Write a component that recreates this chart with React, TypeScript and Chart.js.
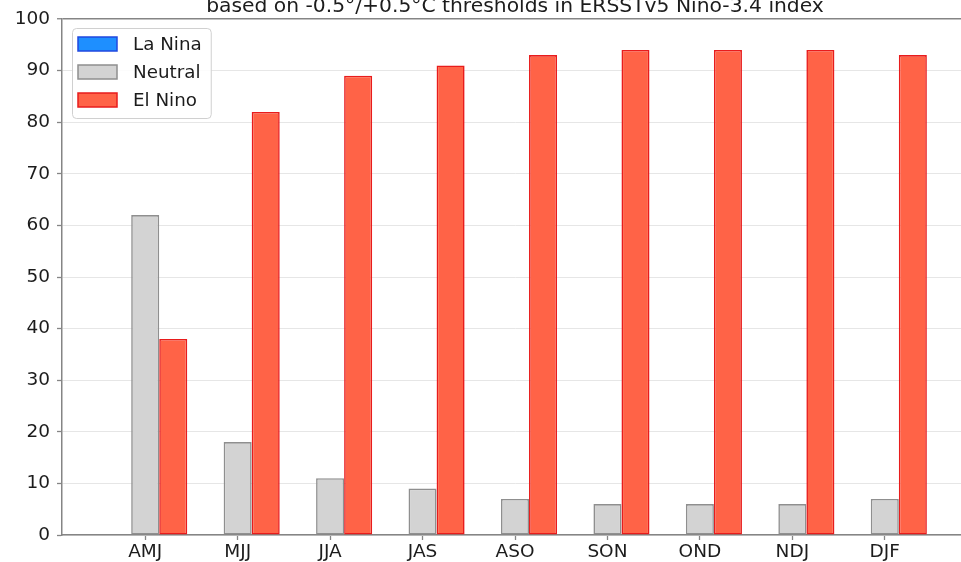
import { useEffect, useRef } from "react";
import { Chart, registerables } from "chart.js";

Chart.register(...registerables);

// ENSO outcome probabilities (%) by overlapping 3-month season
const SEASONS = ["AMJ", "MJJ", "JJA", "JAS", "ASO", "SON", "OND", "NDJ", "DJF"];
const LA_NINA = [0, 0, 0, 0, 0, 0, 0, 0, 0];
const NEUTRAL = [62, 18, 11, 9, 7, 6, 6, 6, 7];
const EL_NINO = [38, 82, 89, 91, 93, 94, 94, 94, 93];
const SERIES_NAMES = ["La Nina", "Neutral", "El Nino"];
const Y_MIN = 0;
const Y_MAX = 100;
const Y_STEP = 10;
const TITLE = "based on -0.5\u00b0/+0.5\u00b0C thresholds in ERSSTv5 Nino-3.4 index";

const FONT = "DejaVu Sans";
const SPINE = "#858585";
const TEXT = "#1c1c1c";

const CANVAS_W = 980;
const CANVAS_H = 562;

// Title sits just above the plot frame
const titlePlugin = {
  id: "topTitle",
  afterDraw(chart: any) {
    const { ctx, chartArea } = chart;
    ctx.save();
    ctx.font = `20.3px "${FONT}"`;
    ctx.fillStyle = TEXT;
    ctx.textAlign = "center";
    ctx.textBaseline = "alphabetic";
    ctx.fillText(TITLE, (chartArea.left + chartArea.right) / 2, chartArea.top - 7.5);
    ctx.restore();
  },
};

// Framed legend in the upper-left corner of the plot
const insetLegend = {
  id: "insetLegend",
  afterDatasetsDraw(chart: any) {
    const { ctx, chartArea } = chart;
    const sets = chart.data.datasets;
    const fx = chartArea.left + 10;
    const fy = chartArea.top + 9;
    const boxX = chartArea.left + 16;
    const boxW = 39;
    const boxH = 14;
    const textX = boxX + boxW + 16;
    const rowH = 28;
    const firstRow = chartArea.top + 25;
    ctx.save();
    ctx.font = `18.3px "${FONT}"`;
    let maxW = 0;
    sets.forEach((d: any) => {
      maxW = Math.max(maxW, ctx.measureText(d.label).width);
    });
    const fw = textX + maxW + 9 - fx;
    const fh = rowH * sets.length + 6;
    ctx.beginPath();
    ctx.roundRect(fx + 0.5, fy + 0.5, fw, fh, 4);
    ctx.fillStyle = "rgba(255,255,255,0.85)";
    ctx.fill();
    ctx.strokeStyle = "#d0d0d0";
    ctx.lineWidth = 1;
    ctx.stroke();
    sets.forEach((d: any, i: number) => {
      const cy = firstRow + i * rowH;
      ctx.fillStyle = d.backgroundColor;
      ctx.fillRect(boxX, cy - boxH / 2, boxW, boxH);
      ctx.strokeStyle = d.borderColor;
      ctx.lineWidth = 1.5;
      ctx.strokeRect(boxX, cy - boxH / 2, boxW, boxH);
      ctx.fillStyle = TEXT;
      ctx.textAlign = "left";
      ctx.textBaseline = "middle";
      ctx.fillText(d.label, textX, cy + 1);
    });
    ctx.restore();
  },
};

const toPoints = (vals: number[]) => vals.map((y, x) => ({ x, y }));

export default function App() {
  const ref = useRef<HTMLCanvasElement | null>(null);

  useEffect(() => {
    if (!ref.current) return;
    const chart = new Chart(ref.current, {
      type: "bar",
      data: {
        datasets: [
          {
            label: SERIES_NAMES[0],
            data: toPoints(LA_NINA),
            backgroundColor: "#1e8fff",
            borderColor: "#2048e0",
          },
          {
            label: SERIES_NAMES[1],
            data: toPoints(NEUTRAL),
            backgroundColor: "#d3d3d3",
            borderColor: "#8f8f8f",
          },
          {
            label: SERIES_NAMES[2],
            data: toPoints(EL_NINO),
            backgroundColor: "#ff6347",
            borderColor: "#e81c1c",
          },
        ] as any,
      },
      options: {
        animation: false,
        responsive: false,
        devicePixelRatio: 1,
        layout: { padding: { top: 19, right: 12, left: 0, bottom: 0 } },
        datasets: {
          bar: {
            categoryPercentage: 0.91,
            barPercentage: 1,
            borderWidth: 1.6,
            borderSkipped: false,
          },
        } as any,
        plugins: {
          legend: { display: false },
          title: { display: false },
          tooltip: { enabled: false },
        },
        scales: {
          x: {
            type: "linear",
            min: -0.9,
            max: SEASONS.length - 0.1,
            offset: false,
            afterBuildTicks: (s: any) => {
              s.ticks = SEASONS.map((_, i) => ({ value: i }));
            },
            afterFit: (s: any) => {
              s.height = 27;
            },
            grid: {
              offset: false,
              drawOnChartArea: false,
              drawTicks: true,
              tickLength: 5,
              tickColor: SPINE,
              tickWidth: 1.3,
            },
            border: { color: SPINE, width: 1.5 },
            ticks: {
              callback: (v: any) => SEASONS[v] ?? "",
              font: { family: FONT, size: 18.5 },
              color: TEXT,
              padding: 1,
              maxRotation: 0,
              autoSkip: false,
            },
          },
          y: {
            min: Y_MIN,
            max: Y_MAX,
            afterFit: (s: any) => {
              s.width = 62;
            },
            grid: {
              color: (c: any) => (c.tick && c.tick.value === Y_MAX ? SPINE : "#e6e6e6"),
              lineWidth: (c: any) => (c.tick && c.tick.value === Y_MAX ? 1.5 : 1),
              tickColor: SPINE,
              tickLength: 5,
              tickWidth: 1.3,
            },
            border: { color: SPINE, width: 1.5 },
            ticks: {
              stepSize: Y_STEP,
              font: { family: FONT, size: 18.5 },
              color: TEXT,
              padding: 7,
            },
          },
        } as any,
      },
      plugins: [titlePlugin, insetLegend],
    });
    return () => chart.destroy();
  }, []);

  return (
    <div
      style={{
        position: "fixed",
        left: 0,
        top: 0,
        width: 961,
        height: 562,
        overflow: "hidden",
        background: "#ffffff",
      }}
    >
      <canvas
        ref={ref}
        width={CANVAS_W}
        height={CANVAS_H}
        style={{ display: "block", width: CANVAS_W, height: CANVAS_H }}
      />
    </div>
  );
}
